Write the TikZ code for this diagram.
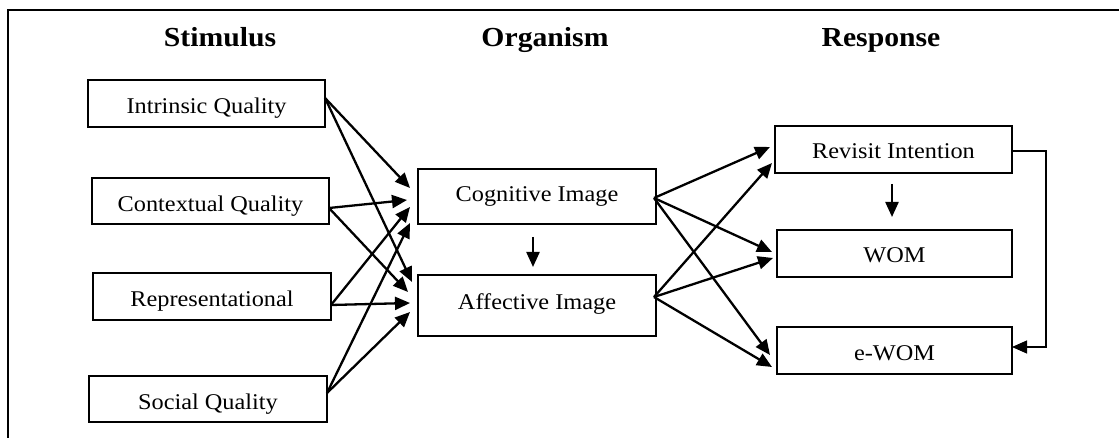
\documentclass[tikz,border=0pt]{standalone}
\usepackage{fontspec}
\setmainfont{Liberation Serif}[FakeStretch=1.08]
\usetikzlibrary{arrows.meta,calc}
\begin{document}
\begin{tikzpicture}[x=1pt,y=-1pt,
  box/.style={draw,line width=2.8pt,inner sep=0pt,outer sep=0pt,minimum width=237pt,
    text height=34pt,text depth=13pt,anchor=north west,font=\fontsize{22.5}{26}\selectfont},
  hdr/.style={anchor=base,font=\bfseries\fontsize{27.5}{32}\selectfont},
  arr/.style={line width=2.3pt,-{Triangle[length=15pt,width=13pt]}},
  thinarr/.style={line width=1.2pt,-{Triangle[length=15pt,width=13pt]}}]
\useasboundingbox (0,0) rectangle (1119,438);
% frame
\draw[line width=2.5pt] (1119,10) -- (8,10) -- (8,438);
% headers
\node[hdr] (hs) at (220,47) {Stimulus};
\node[hdr] (ho) at (545,47) {Organism};
\node[hdr] (hr) at (881,47) {Response};
% stimulus boxes
\node[box] (iq) at (88,80) {Intrinsic Quality};
\node[box,text depth=12pt] (cq) at (92,178) {Contextual Quality};
\node[box,minimum width=238pt] (rq) at (93,273) {Representational};
\node[box,minimum width=238pt,text height=33pt] (sq) at (89,376) {Social Quality};
% organism boxes
\node[box,minimum width=238pt,text height=33pt,text depth=22pt] (cog) at (418,169) {Cognitive Image};
\node[box,minimum width=238pt,text height=34pt,text depth=27pt] (aff) at (418,275) {Affective Image};
% response boxes
\node[box,text height=33pt,text depth=14pt] (rev) at (775,126) {Revisit Intention};
\node[box,minimum width=235pt,text height=33pt,text depth=14pt] (wom) at (777,230) {WOM};
\node[box,minimum width=235pt,text height=33pt,text depth=14pt] (ewom) at (777,327) {e-WOM};
% stimulus -> organism
\draw[arr] ($(iq.north east)+(0,18)$) -- ($(cog.north west)+(-8,19)$);
\draw[arr] ($(iq.north east)+(0,18)$) -- ($(aff.north west)+(-6,7)$);
\draw[arr] ($(cq.north east)+(0,30)$) -- ($(cog.north west)+(-11,31)$);
\draw[arr] ($(cq.north east)+(0,30)$) -- ($(aff.north west)+(-10,17)$);
\draw[arr] ($(rq.north east)+(0,32)$) -- ($(cog.north west)+(-8,38)$);
\draw[arr] ($(rq.north east)+(0,32)$) -- ($(aff.north west)+(-8,28)$);
\draw[arr] ($(sq.north east)+(0,17)$) -- ($(cog.north west)+(-8,54)$);
\draw[arr] ($(sq.north east)+(0,17)$) -- ($(aff.north west)+(-8,37)$);
% organism internal
\draw[arr] ($(cog.south)+(-4,13)$) -- ($(aff.north)+(-4,-8)$);
% organism -> response
\draw[arr] ($(cog.north east)+(-2,29)$) -- ($(rev.north west)+(-5,21)$);
\draw[arr] ($(cog.north east)+(-2,29)$) -- ($(wom.north west)+(-5,22)$);
\draw[arr] ($(cog.north east)+(-2,29)$) -- ($(ewom.north west)+(-7,28)$);
\draw[arr] ($(aff.north east)+(-2,22)$) -- ($(rev.north west)+(-3,37)$);
\draw[arr] ($(aff.north east)+(-2,22)$) -- ($(wom.north west)+(-4,28)$);
\draw[arr] ($(aff.north east)+(-2,22)$) -- ($(ewom.north west)+(-5,40)$);
% response internal
\draw[arr] ($(rev.south)+(-1.5,11)$) -- ($(wom.north)+(-2.5,-13)$);
\draw[thinarr] ($(rev.north east)+(0,25)$) -- ++(34,0) |- ($(ewom.north east)+(0,20)$);
\end{tikzpicture}
\end{document}
